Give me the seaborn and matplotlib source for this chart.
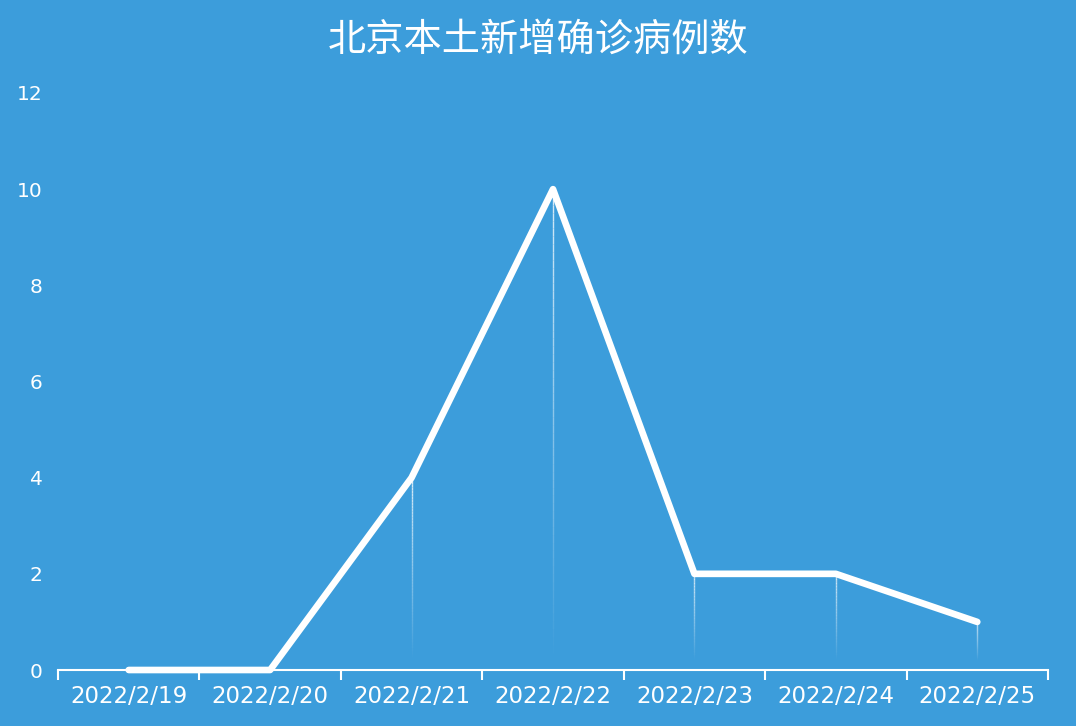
import numpy as np
import pandas as pd
import matplotlib
matplotlib.use("Agg")
import matplotlib.pyplot as plt
from matplotlib.ticker import FixedLocator
from matplotlib.collections import LineCollection
import seaborn as sns

dates = ["2022/2/19", "2022/2/20", "2022/2/21", "2022/2/22",
         "2022/2/23", "2022/2/24", "2022/2/25"]
cases = [0, 0, 4, 10, 2, 2, 1]
y_ticks = [0, 2, 4, 6, 8, 10, 12]
title = "北京本土新增确诊病例数"

bg = "#3c9ddb"

sns.set_theme(style="white")
plt.rcParams["font.family"] = ["Noto Sans CJK SC", "DejaVu Sans"]

df = pd.DataFrame({"date": dates, "cases": cases})

fig = plt.figure(figsize=(10.76, 7.26), dpi=100, facecolor=bg)
ax = fig.add_axes([58 / 1076, 56 / 726, 990 / 1076, 577 / 726])
ax.set_facecolor(bg)

# faded drop lines from each point down to the axis
for i, v in enumerate(cases):
    if v <= 0:
        continue
    n = 60
    ys = np.linspace(0.2, v, n + 1)
    segs = [[(i, ys[k]), (i, ys[k + 1])] for k in range(n)]
    alphas = np.linspace(0.0, 0.8, n)
    cols = [(1, 1, 1, a) for a in alphas]
    ax.add_collection(LineCollection(segs, colors=cols, linewidths=1.0, zorder=2))

sns.lineplot(data=df, x="date", y="cases", ax=ax, color="white",
             linewidth=4.8, sort=False, zorder=4)
for line in ax.lines:
    line.set_clip_on(False)
    line.set_solid_capstyle("round")
    line.set_solid_joinstyle("round")

ax.set_xlim(-0.5, len(dates) - 0.5)
ax.set_ylim(0, 12)
ax.set_yticks(y_ticks)
ax.set_xticks(range(len(dates)))
ax.set_xticklabels(dates)
ax.xaxis.set_minor_locator(FixedLocator(np.arange(-0.5, len(dates), 1.0)))

ax.tick_params(axis="x", which="major", length=0, pad=11, labelsize=16.5,
               labelcolor="white")
ax.tick_params(axis="x", which="minor", bottom=True, length=7, width=1.5,
               color="white", direction="out")
ax.tick_params(axis="y", length=0, pad=11, labelsize=14.5, labelcolor="white")
for lab in ax.get_xticklabels() + ax.get_yticklabels():
    lab.set_family("DejaVu Sans")

for s in ["top", "right", "left"]:
    ax.spines[s].set_visible(False)
ax.spines["bottom"].set_color("white")
ax.spines["bottom"].set_linewidth(1.5)
ax.spines["bottom"].set_zorder(3)
ax.set_xlabel("")
ax.set_ylabel("")
ax.grid(False)

fig.text(0.5, 1 - 40 / 726, title, ha="center", va="center",
         color="white", fontsize=27.5, fontweight="medium",
         family=["Noto Sans CJK SC", "DejaVu Sans"])

fig.savefig("out.png", dpi=100, facecolor=bg)
